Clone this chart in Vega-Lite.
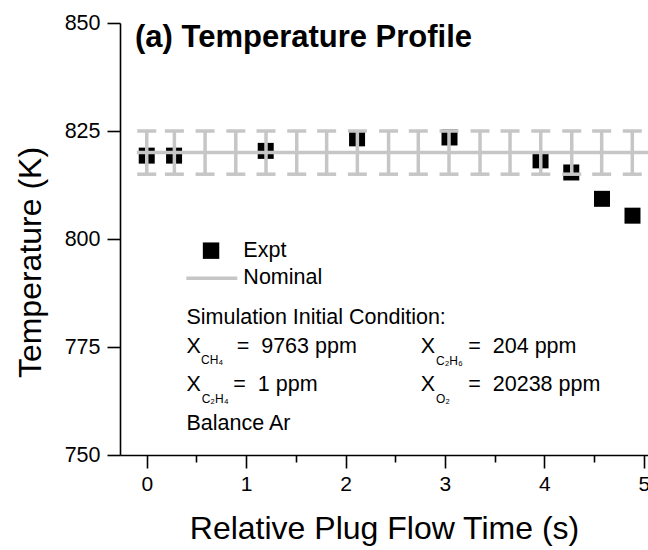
{
  "$schema": "https://vega.github.io/schema/vega-lite/v6.json",
  "width": 528,
  "height": 432,
  "autosize": {"type": "none"},
  "padding": {"left": 120, "top": 23, "right": 0, "bottom": 95},
  "background": "white",
  "config": {
    "view": {"stroke": null},
    "font": "Liberation Sans",
    "axis": {"labelFont": "Liberation Sans", "titleFont": "Liberation Sans", "labelColor": "black", "titleColor": "black", "domainColor": "black", "tickColor": "black", "domainWidth": 1.6, "tickWidth": 1.6, "grid": false, "titleFontWeight": "normal"}
  },
  "datasets": {
    "expt": [
      {"t": 0, "T": 819.3},
      {"t": 0.275, "T": 819.3},
      {"t": 1.197, "T": 820.4},
      {"t": 2.116, "T": 823.3},
      {"t": 3.046, "T": 823.5},
      {"t": 3.962, "T": 818.2},
      {"t": 4.271, "T": 815.4},
      {"t": 4.58, "T": 809.3},
      {"t": 4.887, "T": 805.4}
    ],
    "bars": [
      {"t": 0, "T": 815, "T2": 825},
      {"t": 0.278, "T": 815, "T2": 825},
      {"t": 0.587, "T": 815, "T2": 825},
      {"t": 0.896, "T": 815, "T2": 825},
      {"t": 1.2, "T": 815, "T2": 825},
      {"t": 1.509, "T": 815, "T2": 825},
      {"t": 1.81, "T": 815, "T2": 825},
      {"t": 2.119, "T": 815, "T2": 825},
      {"t": 2.433, "T": 815, "T2": 825},
      {"t": 2.732, "T": 815, "T2": 825},
      {"t": 3.041, "T": 815, "T2": 825},
      {"t": 3.353, "T": 815, "T2": 825},
      {"t": 3.655, "T": 815, "T2": 825},
      {"t": 3.964, "T": 815, "T2": 825},
      {"t": 4.276, "T": 815, "T2": 825},
      {"t": 4.577, "T": 815, "T2": 825},
      {"t": 4.885, "T": 815, "T2": 825}
    ],
    "nominal": [
      {"t": -0.1, "t2": 5.3, "T": 820}
    ],
    "legendSym": [
      {"t": 0.647, "T": 797.3}
    ],
    "legendLine": [
      {"t": 0.398, "t2": 0.911, "T": 790.9}
    ],
    "texts": [
      {"kind": "title", "t": -0.118, "T": 844.4, "label": "(a) Temperature Profile"},
      {"kind": "main", "t": 0.972, "T": 797.2, "label": "Expt"},
      {"kind": "main", "t": 0.972, "T": 791.0, "label": "Nominal"},
      {"kind": "main", "t": 0.4, "T": 781.7, "label": "Simulation Initial Condition:"},
      {"kind": "main", "t": 0.4, "T": 775.1, "label": "X"},
      {"kind": "sub", "t": 0.546, "T": 772.0, "label": "CH₄"},
      {"kind": "main", "t": 0.905, "T": 775.1, "label": "=\u00a0\u00a09763 ppm"},
      {"kind": "main", "t": 2.757, "T": 775.1, "label": "X"},
      {"kind": "sub", "t": 2.91, "T": 771.7, "label": "C₂H₆"},
      {"kind": "main", "t": 3.235, "T": 775.1, "label": "=\u00a0\u00a0204 ppm"},
      {"kind": "main", "t": 0.4, "T": 766.3, "label": "X"},
      {"kind": "sub", "t": 0.553, "T": 763.0, "label": "C₂H₄"},
      {"kind": "main", "t": 0.871, "T": 766.3, "label": "=\u00a0\u00a01 ppm"},
      {"kind": "main", "t": 2.757, "T": 766.3, "label": "X"},
      {"kind": "sub", "t": 2.91, "T": 763.0, "label": "O₂"},
      {"kind": "main", "t": 3.235, "T": 766.3, "label": "=\u00a0\u00a020238 ppm"},
      {"kind": "main", "t": 0.4, "T": 757.2, "label": "Balance Ar"}
    ]
  },
  "layer": [
    {
      "data": {"name": "expt"},
      "mark": {"type": "square", "filled": true, "color": "black", "size": 256, "opacity": 1},
      "encoding": {
        "x": {"field": "t", "type": "quantitative", "title": "Relative Plug Flow Time (s)", "scale": {"domain": [-0.269, 5.043], "nice": false, "zero": false},
          "axis": {"values": [0, 0.5, 1, 1.5, 2, 2.5, 3, 3.5, 4, 4.5, 5],
            "labelExpr": "datum.value % 1 === 0 ? format(datum.value, 'd') : ''",
            "tickSize": {"condition": {"test": "datum.value % 1 === 0", "value": 13}, "value": 7},
            "labelFontSize": 21, "labelPadding": 5, "titleFontSize": 32, "titlePadding": 19, "labelFlush": false, "labelOverlap": false}},
        "y": {"field": "T", "type": "quantitative", "title": "Temperature (K)", "scale": {"domain": [750, 850], "nice": false, "zero": false},
          "axis": {"values": [750, 775, 800, 825, 850], "tickSize": 13,
            "labelFontSize": 21.5, "labelPadding": 7, "titleFontSize": 32, "titlePadding": 17, "titleY": 239, "labelFlush": false}}
      }
    },
    {
      "data": {"name": "bars"},
      "mark": {"type": "rule", "color": "#c6c6c6", "strokeWidth": 3.5},
      "encoding": {
        "x": {"field": "t", "type": "quantitative", "title": "Relative Plug Flow Time (s)"},
        "y": {"field": "T", "type": "quantitative", "title": "Temperature (K)"},
        "y2": {"field": "T2"}
      }
    },
    {
      "data": {"name": "bars"},
      "mark": {"type": "tick", "orient": "horizontal", "color": "#c6c6c6", "size": 19, "thickness": 3.5, "opacity": 1},
      "encoding": {
        "x": {"field": "t", "type": "quantitative", "title": "Relative Plug Flow Time (s)"},
        "y": {"field": "T", "type": "quantitative", "title": "Temperature (K)"}
      }
    },
    {
      "data": {"name": "bars"},
      "mark": {"type": "tick", "orient": "horizontal", "color": "#c6c6c6", "size": 19, "thickness": 3.5, "opacity": 1},
      "encoding": {
        "x": {"field": "t", "type": "quantitative", "title": "Relative Plug Flow Time (s)"},
        "y": {"field": "T2", "type": "quantitative", "title": "Temperature (K)"}
      }
    },
    {
      "data": {"name": "nominal"},
      "mark": {"type": "rule", "color": "#c6c6c6", "strokeWidth": 3.5, "clip": true},
      "encoding": {
        "x": {"field": "t", "type": "quantitative", "title": "Relative Plug Flow Time (s)"},
        "x2": {"field": "t2"},
        "y": {"field": "T", "type": "quantitative", "title": "Temperature (K)"}
      }
    },
    {
      "data": {"name": "legendSym"},
      "mark": {"type": "square", "filled": true, "color": "black", "size": 270, "opacity": 1},
      "encoding": {
        "x": {"field": "t", "type": "quantitative", "title": "Relative Plug Flow Time (s)"},
        "y": {"field": "T", "type": "quantitative", "title": "Temperature (K)"}
      }
    },
    {
      "data": {"name": "legendLine"},
      "mark": {"type": "rule", "color": "#c6c6c6", "strokeWidth": 3.5},
      "encoding": {
        "x": {"field": "t", "type": "quantitative", "title": "Relative Plug Flow Time (s)"},
        "x2": {"field": "t2"},
        "y": {"field": "T", "type": "quantitative", "title": "Temperature (K)"}
      }
    },
    {
      "data": {"name": "texts"},
      "transform": [{"filter": "datum.kind === 'main'"}],
      "mark": {"type": "text", "align": "left", "baseline": "middle", "fontSize": 21.5, "font": "Liberation Sans", "color": "black"},
      "encoding": {
        "x": {"field": "t", "type": "quantitative", "title": "Relative Plug Flow Time (s)"},
        "y": {"field": "T", "type": "quantitative", "title": "Temperature (K)"},
        "text": {"field": "label"}
      }
    },
    {
      "data": {"name": "texts"},
      "transform": [{"filter": "datum.kind === 'sub'"}],
      "mark": {"type": "text", "align": "left", "baseline": "middle", "fontSize": 12, "font": "Liberation Sans", "color": "black"},
      "encoding": {
        "x": {"field": "t", "type": "quantitative", "title": "Relative Plug Flow Time (s)"},
        "y": {"field": "T", "type": "quantitative", "title": "Temperature (K)"},
        "text": {"field": "label"}
      }
    },
    {
      "data": {"name": "texts"},
      "transform": [{"filter": "datum.kind === 'title'"}],
      "mark": {"type": "text", "align": "left", "baseline": "alphabetic", "fontSize": 31, "fontWeight": "bold", "font": "Liberation Sans", "color": "black"},
      "encoding": {
        "x": {"field": "t", "type": "quantitative", "title": "Relative Plug Flow Time (s)"},
        "y": {"field": "T", "type": "quantitative", "title": "Temperature (K)"},
        "text": {"field": "label"}
      }
    }
  ]
}
